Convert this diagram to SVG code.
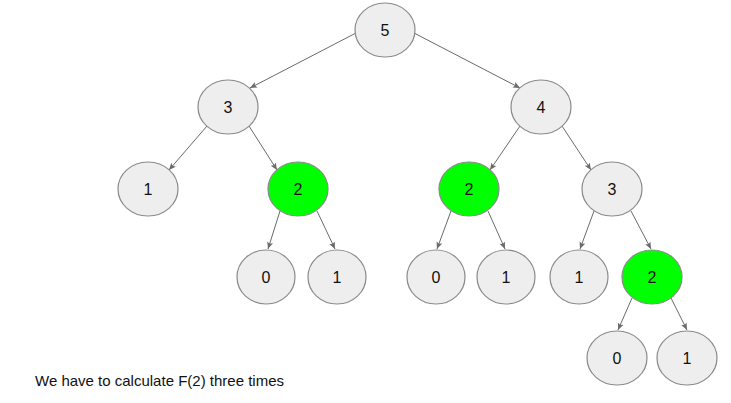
<svg xmlns="http://www.w3.org/2000/svg" width="731" height="403" viewBox="0 0 731 403">
  <style>
    .node ellipse { fill: #eeeeee; stroke: #8a8a8a; stroke-width: 1.2; }
    .node.hot ellipse { fill: #00ff00; }
    .node text { font-family: "Liberation Sans", Arial, sans-serif; font-size: 16px; fill: #111; text-anchor: middle; dominant-baseline: central; }
    #edges line { stroke: #6a6a6a; stroke-width: 1; marker-end: url(#arrow); }
    .caption { font-family: "Liberation Sans", Arial, sans-serif; font-size: 15px; fill: #111; }
  </style>
  <defs>
    <marker id="arrow" markerUnits="userSpaceOnUse" markerWidth="8" markerHeight="8" viewBox="0 0 8 8" refX="7" refY="4" orient="auto">
      <path d="M0,1 L7,4 L0,7 L1.5,4 Z" fill="#6a6a6a"/>
    </marker>
  </defs>
  <rect width="731" height="403" fill="#ffffff"/>

  <g id="edges">
    <line x1="356" y1="33" x2="250" y2="88"/>
    <line x1="414" y1="33" x2="520" y2="88"/>
    <line x1="207" y1="126" x2="169" y2="170"/>
    <line x1="249" y1="126" x2="277" y2="170"/>
    <line x1="520" y1="126" x2="490" y2="170"/>
    <line x1="562" y1="126" x2="591" y2="170"/>
    <line x1="280" y1="211" x2="268" y2="249"/>
    <line x1="317" y1="211" x2="335" y2="249"/>
    <line x1="451" y1="211" x2="437" y2="249"/>
    <line x1="488" y1="211" x2="505" y2="249"/>
    <line x1="594" y1="211" x2="580" y2="249"/>
    <line x1="631" y1="211" x2="651" y2="249"/>
    <line x1="632" y1="298" x2="618" y2="330"/>
    <line x1="671" y1="298" x2="687" y2="330"/>
  </g>

  <g id="n5" class="node"><ellipse cx="385" cy="30" rx="30" ry="27"/><text x="385" y="30">5</text></g>
  <g id="n3a" class="node"><ellipse cx="228" cy="107" rx="30" ry="27"/><text x="228" y="107">3</text></g>
  <g id="n4" class="node"><ellipse cx="541" cy="107" rx="30" ry="27"/><text x="541" y="107">4</text></g>
  <g id="n1a" class="node"><ellipse cx="148" cy="189" rx="30" ry="27"/><text x="148" y="189">1</text></g>
  <g id="n2a" class="node hot"><ellipse cx="298" cy="189" rx="30" ry="27"/><text x="298" y="189">2</text></g>
  <g id="n2b" class="node hot"><ellipse cx="469" cy="189" rx="30" ry="27"/><text x="469" y="189">2</text></g>
  <g id="n3b" class="node"><ellipse cx="612" cy="189" rx="30" ry="27"/><text x="612" y="189">3</text></g>
  <g id="n0a" class="node"><ellipse cx="266" cy="277" rx="29" ry="27"/><text x="266" y="277">0</text></g>
  <g id="n1b" class="node"><ellipse cx="337" cy="277" rx="29" ry="27"/><text x="337" y="277">1</text></g>
  <g id="n0b" class="node"><ellipse cx="436" cy="277" rx="29" ry="27"/><text x="436" y="277">0</text></g>
  <g id="n1c" class="node"><ellipse cx="506" cy="277" rx="29" ry="27"/><text x="506" y="277">1</text></g>
  <g id="n1d" class="node"><ellipse cx="579" cy="277" rx="29" ry="27"/><text x="579" y="277">1</text></g>
  <g id="n2c" class="node hot"><ellipse cx="652" cy="277" rx="30" ry="27"/><text x="652" y="277">2</text></g>
  <g id="n0c" class="node"><ellipse cx="617" cy="358" rx="30" ry="27"/><text x="617" y="358">0</text></g>
  <g id="n1e" class="node"><ellipse cx="687" cy="358" rx="30" ry="27"/><text x="687" y="358">1</text></g>

  <text class="caption" x="35" y="386">We have to calculate F(2) three times</text>
</svg>
